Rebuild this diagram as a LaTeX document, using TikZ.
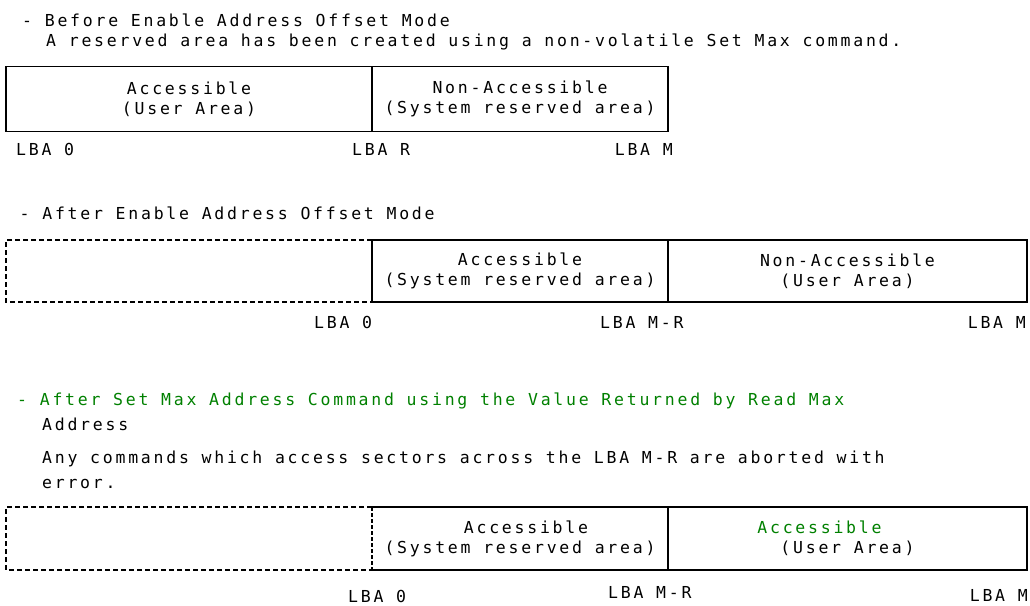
\documentclass[tikz,border=0pt]{standalone}
\usepackage{fontspec}
\setmonofont{DejaVu Sans Mono}[LetterSpace=16.7]
\definecolor{grn}{RGB}{0,128,0}
\tikzset{
  mfont/.style={font=\ttfamily\fontsize{16.5}{20}\selectfont},
  txt/.style={mfont, inner sep=0pt, anchor=base west},
  txte/.style={mfont, inner sep=0pt, anchor=base east},
  cell/.style={mfont, draw, line width=1.8pt, align=center, inner sep=0pt, outer sep=0pt, minimum height=63pt},
  ghost/.style={cell, draw=none},
  dashbox/.style={line width=1.5pt, dash pattern=on 5pt off 3pt},
  edge/.style={line width=1.8pt},
}
\begin{document}
\begin{tikzpicture}[x=1pt,y=-1pt]
\useasboundingbox (0,0) rectangle (1030,605);
% ---------- Section 1 ----------
\node[txt] (t1) at (22,27) {- Before Enable Address Offset Mode};
\node[txt] (t2) at (46,46) {A reserved area has been created using a non-volatile Set Max command.};
\node[cell, minimum width=366pt, minimum height=65pt] (b1a) at (189,99) {Accessible\\(User Area)};
\node[cell, minimum width=296pt, minimum height=65pt] (b1b) at (520,99) {Non-Accessible\\(System reserved area)};
\node[txt] (l1a) at (16,155) {LBA 0};
\node[txt] (l1b) at (352,155) {LBA R};
\node[txte] (l1c) at (673,155) {LBA M};
% ---------- Section 2 ----------
\node[txt] (t3) at (19.5,219) {- After Enable Address Offset Mode};
\node[ghost, minimum width=366pt, minimum height=62pt] (d2) at (189,271) {};
\draw[dashbox] (d2.north east) -- (d2.north west) -- (d2.south west) -- (d2.south east);
\node[cell, minimum width=296pt, minimum height=62pt] (b2a) at (520,271) {Accessible\\(System reserved area)};
\node[cell, minimum width=359pt, minimum height=62pt] (b2b) at (847.5,271) {Non-Accessible\\(User Area)};
\node[txt] (l2a) at (314,328) {LBA 0};
\node[txt] (l2b) at (600,328) {LBA M-R};
\node[txte] (l2c) at (1026,328) {LBA M};
% ---------- Section 3 ----------
\node[txt, text=grn] (t4) at (17,405) {- After Set Max Address Command using the Value Returned by Read Max};
\node[txt] (t5) at (42,430) {Address};
\node[txt] (t6) at (42,463) {Any commands which access sectors across the LBA M-R are aborted with};
\node[txt] (t7) at (42,488) {error.};
\node[ghost, minimum width=366pt, minimum height=63pt] (d3) at (189,538.5) {};
\draw[dashbox] (d3.north east) -- (d3.north west) -- (d3.south west) -- (d3.south east);
\node[ghost, minimum width=296pt] (b3a) at (520,538.5) {\hspace*{12pt}Accessible\\(System reserved area)};
\node[ghost, minimum width=359pt] (b3b) at (847.5,538.5) {\textcolor{grn}{Accessible}\hspace*{56pt}\\(User Area)};
\draw[edge] (b3a.north west) -- (b3b.north east) -- (b3b.south east) -- (b3a.south west);
\draw[edge] (b3a.north east) -- (b3a.south east);
\draw[line width=2.2pt, dash pattern=on 4pt off 2pt] (b3a.north west) -- (b3a.south west);
\node[txt] (l3a) at (348,602) {LBA 0};
\node[txt] (l3b) at (608,598) {LBA M-R};
\node[txte] (l3c) at (1028,601) {LBA M};
\end{tikzpicture}
\end{document}
